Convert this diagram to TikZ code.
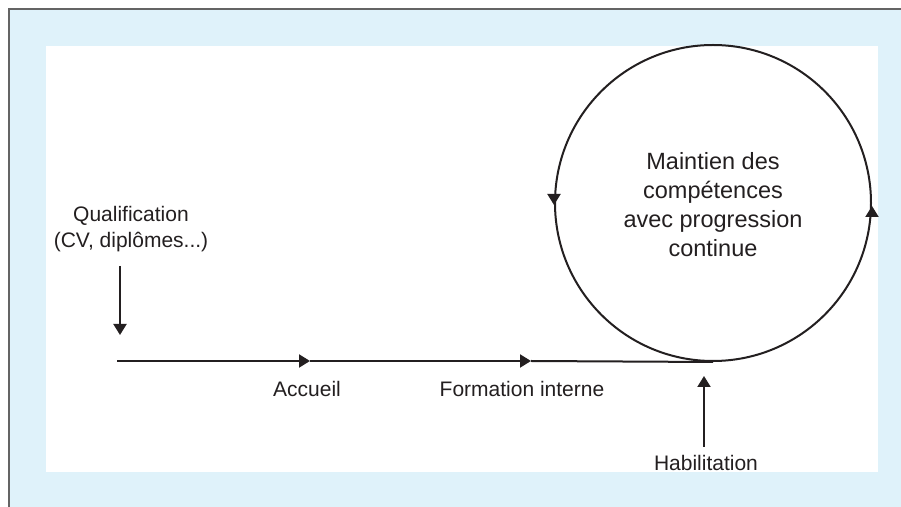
\documentclass[tikz,border=0pt]{standalone}
\usepackage{fontspec}
\setmainfont{Liberation Sans}
\usetikzlibrary{arrows.meta}
\definecolor{bgblue}{RGB}{223,242,250}
\definecolor{frame}{RGB}{100,100,100}
\definecolor{ink}{RGB}{35,31,32}
\begin{document}
\begin{tikzpicture}[x=0.5pt,y=-0.5pt,
  line/.style={draw=ink,line width=1pt},
  tip/.style={-{Triangle[length=5.5pt,width=6.5pt]}},
  lbl/.style={text=ink,font=\fontsize{10.5pt}{13pt}\selectfont,inner sep=0pt,align=center},
  ctext/.style={text=ink,font=\fontsize{11.75pt}{14.5pt}\selectfont,align=center}]
\useasboundingbox (0,0) rectangle (901,507);
\fill[white] (0,0) rectangle (901,507);
\fill[bgblue] (9,9) rectangle (901,507);
\draw[frame,line width=1pt] (9,507) -- (9,9) -- (901,9);
\fill[white] (46,46) rectangle (878,472);
% circle
\node[circle,line,minimum size=158pt,inner sep=0pt] (c) at (713,203) {};
\node[ctext] (ct) at (713,205) {Maintien des\\compétences\\avec progression\\continue};
% circle arrowheads
\draw[line,tip] ([yshift=4pt]c.west) -- ([yshift=-1pt]c.west);
\draw[line,tip] ([yshift=-5.5pt]c.east) -- ([yshift=-1.5pt]c.east);
% main line
\coordinate (s) at (117,361);
\coordinate (p1) at (310,361);
\coordinate (p2) at (531,361);
\draw[line,tip] (s) -- (p1);
\draw[line,tip] (p1) -- (p2);
\draw[line] (p2) -- (c.south);
% labels
\node[lbl] (qual) at (131,229) {Qualification\\(CV, diplômes...)};
\coordinate (qa) at (120,266);
\coordinate (qb) at (120,335);
\draw[line,tip] (qa) -- (qb);
\node[lbl] (acc) at (307,389) {Accueil};
\node[lbl] (form) at (522,389) {Formation interne};
\node[lbl] (hab) at (706,463) {Habilitation};
\coordinate (ha) at (704,447);
\coordinate (hb) at (704,376);
\draw[line,tip] (ha) -- (hb);
\end{tikzpicture}
\end{document}
